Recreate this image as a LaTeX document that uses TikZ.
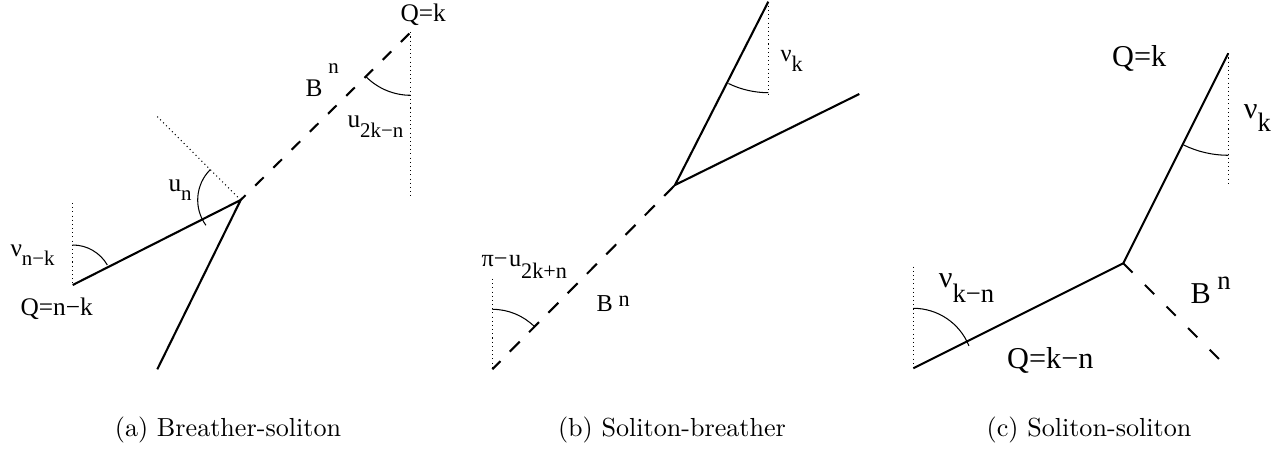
\documentclass[tikz,border=0pt]{standalone}
\usepackage{fontspec}
\newfontfamily\lab{Liberation Serif}
\newcommand{\fa}{\lab\fontsize{9.7}{11}\selectfont}
\newcommand{\fsa}{\lab\fontsize{8}{9}\selectfont}
\newcommand{\fb}{\lab\fontsize{9.3}{11}\selectfont}
\newcommand{\fsb}{\lab\fontsize{8.5}{10}\selectfont}
\newcommand{\fc}{\lab\fontsize{11.6}{13}\selectfont}
\newcommand{\fsc}{\lab\fontsize{10.2}{12}\selectfont}
\begin{document}
\begin{tikzpicture}[x=0.383pt,y=-0.383pt,
  solid line/.style={line width=0.8pt, line join=miter},
  breather/.style={line width=0.8pt},
  guide/.style={line width=0.4pt, dash pattern=on 0.4pt off 1.2pt},
  anglearc/.style={line width=0.4pt},
  lbl/.style={inner sep=0pt, anchor=base west},
  captext/.style={inner sep=0pt, anchor=base, font=\fontsize{10}{12}\selectfont}]
\useasboundingbox (0,0) rectangle (1282,455);
% ---------------- panel (a)
\coordinate (Va) at (240.7,200);
\coordinate (La) at (72.7,285);
\coordinate (Ba) at (157.3,369.3);
\coordinate (Ta) at (410.7,32.3);
\coordinate (Pa) at (156.7,116);
\coordinate (LaTop) at (72.7,203);
\coordinate (TaBot) at (410.7,197);
\draw[solid line] (La) -- (Va) -- (Ba);
\draw[breather, dash pattern=on 4.6pt off 5.2pt, dash phase=2pt] (Va) -- (Ta);
\draw[guide] (Va) -- (Pa);
\draw[guide] (LaTop) -- (La);
\draw[guide] (Ta) -- (TaBot);
\draw[anglearc] (Va) ++(225:43) arc[start angle=225, end angle=144, radius=43];
\draw[anglearc] (La) ++(270:40) arc[start angle=270, end angle=330, radius=40];
\draw[anglearc] (Ta) ++(135:63) arc[start angle=135, end angle=90, radius=63];
\node[lbl, font=\fa] (qa) at (400,22) {Q=k};
\node[lbl, font=\fa] (bna) at (305,96.7) {B\hspace{2.3pt}\raisebox{8.7pt}{\fsa n}};
\node[lbl, font=\fa] (u2a) at (347,128) {u\raisebox{-3.8pt}{\fsa 2k−n}};
\node[lbl, font=\fa] (una) at (168,192) {u\raisebox{-3.1pt}{\fsa n}};
\node[lbl, font=\fa] (nua) at (10,257) {ν\raisebox{-3.1pt}{\fsa n−k}};
\node[lbl, font=\fa] (qnk) at (20,316) {Q=n−k};
\node[captext] (capa) at (228,437) {(a) Breather-soliton};
% ---------------- panel (b)
\coordinate (Vb) at (675,185);
\coordinate (Ub) at (768.3,1.7);
\coordinate (Rb) at (859.3,94);
\coordinate (Db) at (492.3,369.3);
\coordinate (UbBot) at (768.3,94);
\coordinate (DbTop) at (492.3,279);
\draw[solid line] (Ub) -- (Vb) -- (Rb);
\draw[breather, dash pattern=on 5.4pt off 5.1pt, dash phase=1pt] (Db) -- (Vb);
\draw[guide] (Ub) -- (UbBot);
\draw[guide] (DbTop) -- (Db);
\draw[anglearc] (Ub) ++(116:91) arc[start angle=116, end angle=90, radius=91];
\draw[anglearc] (Db) ++(270:60) arc[start angle=270, end angle=315, radius=60];
\node[lbl, font=\fb] (nub) at (780,61.7) {ν\raisebox{-3.8pt}{\fsb k}};
\node[lbl, font=\fb] (pib) at (481,267) {π−\hspace{0.6pt}u\raisebox{-4.5pt}{\fsb 2k+n}};
\node[lbl, font=\fb] (bnb) at (596,311.7) {B\hspace{2.3pt}\raisebox{2pt}{\fsb n}};
\node[captext] (capb) at (672,437) {(b) Soliton-breather};
% ---------------- panel (c)
\coordinate (Vc) at (1123.3,263.3);
\coordinate (Uc) at (1228.3,53.3);
\coordinate (Lc) at (913.3,368.3);
\coordinate (Dc) at (1223.3,363.3);
\coordinate (UcBot) at (1228.3,183.3);
\coordinate (LcTop) at (913.3,266.7);
\draw[solid line] (Lc) -- (Vc) -- (Uc);
\draw[breather, dash pattern=on 5pt off 6.7pt] (Vc) -- (Dc);
\draw[guide] (Uc) -- (UcBot);
\draw[guide] (LcTop) -- (Lc);
\draw[anglearc] (Uc) ++(116:102) arc[start angle=116, end angle=90, radius=102];
\draw[anglearc] (Lc) ++(270:60) arc[start angle=270, end angle=338, radius=60];
\node[lbl, font=\fc] (qc) at (1111.7,66.7) {Q=k};
\node[lbl, font=\fc] (nuc) at (1243.3,118.3) {ν\raisebox{-5.1pt}{\fsc k}};
\node[lbl, font=\fc] (nukn) at (938.3,288) {ν\raisebox{-5.7pt}{\fsc k−n}};
\node[lbl, font=\fc] (bnc) at (1190,303.3) {B\hspace{2.5pt}\raisebox{5.1pt}{\fsc n}};
\node[lbl, font=\fc] (qkn) at (1006.7,368.3) {Q=k−n};
\node[captext] (capc) at (1089,437) {(c) Soliton-soliton};
\end{tikzpicture}
\end{document}
